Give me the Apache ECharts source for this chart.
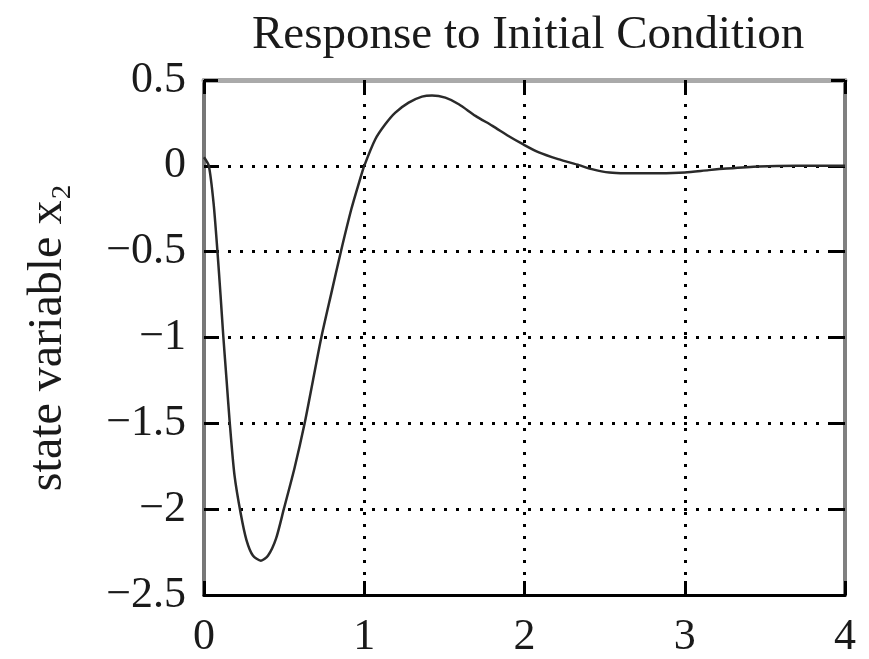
<!DOCTYPE html>
<html>
<head>
<meta charset="utf-8">
<script src="https://cdn.jsdelivr.net/npm/echarts@6/dist/echarts.min.js"></script>
<style>
  html, body { margin: 0; padding: 0; background: #fff; }
  #chart { width: 869px; height: 659px; }
</style>
</head>
<body>
<div id="chart"></div>
<script>
  // time (s) and state variable x2
  var timeValues = [0, 0.03, 0.06, 0.084, 0.103, 0.121, 0.141, 0.161, 0.19, 0.23, 0.265, 0.305, 0.355, 0.4, 0.45,
    0.498, 0.565, 0.628, 0.68, 0.732, 0.795, 0.854, 0.92, 0.973, 1.0, 1.069, 1.131, 1.194, 1.277, 1.36,
    1.423, 1.506, 1.59, 1.694, 1.8, 1.9, 1.99, 2.09, 2.21, 2.34, 2.42, 2.53, 2.63, 2.84, 3.0, 3.15, 3.26,
    3.46, 3.7, 4.0];
  var x2Values = [0.05, 0, -0.22, -0.5, -0.75, -1.0, -1.25, -1.5, -1.8, -2.03, -2.18, -2.27, -2.3, -2.27, -2.17,
    -2.0, -1.76, -1.5, -1.25, -1.0, -0.74, -0.5, -0.25, -0.08, 0.0, 0.155, 0.242, 0.31, 0.368, 0.403,
    0.41, 0.397, 0.359, 0.291, 0.233, 0.174, 0.126, 0.078, 0.039, 0.004, -0.019, -0.039, -0.043, -0.043, -0.039, -0.025, -0.016,
    -0.004, 0, 0];

  var xTickLabels = ['0', '1', '2', '3', '4'];
  var yTickLabels = ['\u22122.5', '\u22122', '\u22121.5', '\u22121', '\u22120.5', '0', '0.5'];

  var seriesData = timeValues.map(function (t, i) { return [t, x2Values[i]]; });

  var serif = '"Liberation Serif", "DejaVu Serif", serif';
  var chart = echarts.init(document.getElementById('chart'));

  chart.setOption({
    animation: false,
    backgroundColor: '#fff',
    title: {
      text: 'Response to Initial Condition',
      left: 247,
      top: 7,
      textStyle: { fontFamily: serif, fontSize: 47, fontWeight: 'normal', color: '#1a1a1a' }
    },
    grid: { left: 204, right: 24, top: 80, bottom: 61 },
    xAxis: [{
      type: 'value', min: 0, max: 4, interval: 1,
      axisLine: { onZero: false, lineStyle: { color: '#000', width: 3 } },
      axisTick: { inside: true, length: 14, lineStyle: { color: '#000', width: 3 } },
      axisLabel: {
        margin: 20, fontFamily: serif, fontSize: 44, color: '#1a1a1a',
        showMinLabel: true, showMaxLabel: true,
        formatter: function (v, i) { return xTickLabels[i]; }
      },
      splitLine: { show: true, lineStyle: { color: '#000', width: 3, type: [3, 9] } }
    }, {
      type: 'value', min: 0, max: 4, interval: 1, position: 'top',
      axisLine: { onZero: false, lineStyle: { color: '#aaa', width: 5 } },
      axisTick: { inside: true, length: 14, lineStyle: { color: '#000', width: 3 } },
      axisLabel: { show: false },
      splitLine: { show: false }
    }],
    yAxis: [{
      type: 'value', min: -2.5, max: 0.5, interval: 0.5,
      name: 'state variable x\u2082',
      nameLocation: 'middle',
      nameGap: 132,
      nameTextStyle: { fontFamily: serif, fontSize: 48, color: '#1a1a1a' },
      axisLine: { onZero: false, lineStyle: { color: '#777', width: 4 } },
      axisTick: { inside: true, length: 14, lineStyle: { color: '#000', width: 3 } },
      axisLabel: {
        margin: 18, fontFamily: serif, fontSize: 44, color: '#1a1a1a',
        showMinLabel: true, showMaxLabel: true,
        formatter: function (v, i) { return yTickLabels[i]; }
      },
      splitLine: { show: true, lineStyle: { color: '#000', width: 3, type: [3, 9] } }
    }, {
      type: 'value', min: -2.5, max: 0.5, interval: 0.5, position: 'right',
      axisLine: { show: true, onZero: false, lineStyle: { color: '#808080', width: 4 } },
      axisTick: { show: true, inside: true, length: 14, lineStyle: { color: '#000', width: 3 } },
      axisLabel: { show: false },
      splitLine: { show: false }
    }],
    series: [{
      type: 'line',
      data: seriesData,
      showSymbol: false,
      smooth: 0.25,
      lineStyle: { color: '#2a2a2a', width: 2.5 },
      z: 3
    }]
  });
</script>
</body>
</html>
